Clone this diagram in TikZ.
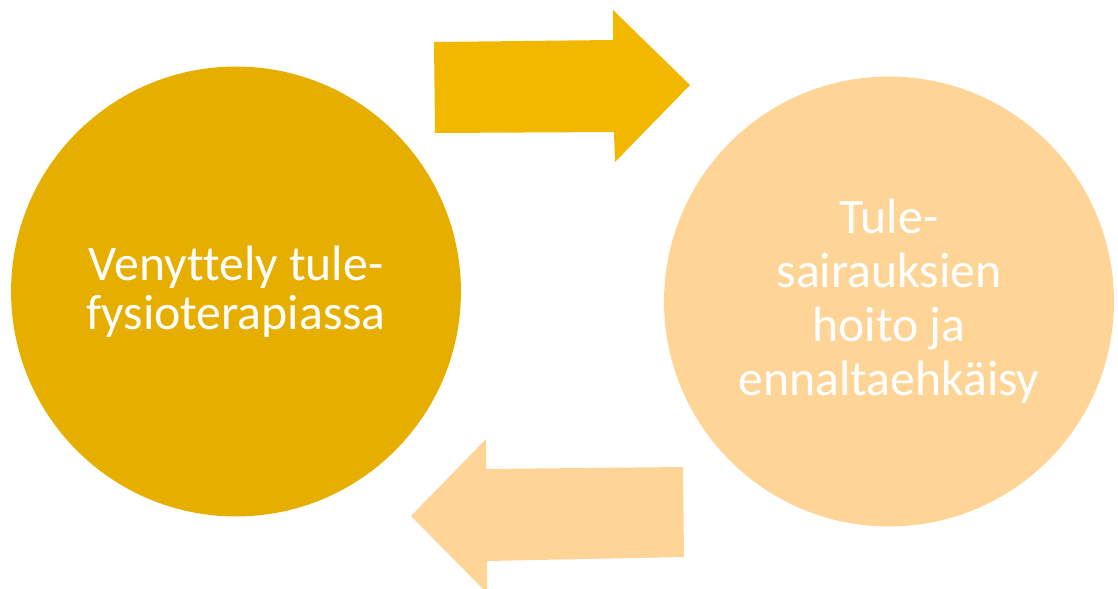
\documentclass[tikz,border=0pt]{standalone}
\usepackage{fontspec}
\setmainfont{Carlito}[Ligatures=NoCommon]
\definecolor{gold}{HTML}{E6AF00}
\definecolor{amber}{HTML}{F2B800}
\definecolor{peach}{HTML}{FED596}
\tikzset{
  ball/.style     = {shape=circle, minimum size=9cm, inner sep=0pt,
                     align=center, text=white},
  leftball/.style = {ball, fill=gold, font=\fontsize{28.3}{27.9}\selectfont},
  rightball/.style= {ball, fill=peach, font=\fontsize{28.3}{30.7}\selectfont},
  fwd/.style      = {fill=amber},
  back/.style     = {fill=peach}
}
\begin{document}
\begin{tikzpicture}[x=0.02cm, y=-0.02cm]
  \clip (0,0) rectangle (1118,588);

  \node[leftball]  (stretch) at (236,291.5) {Venyttely tule-\\fysioterapiassa};
  \node[rightball] (care)    at (889,301.5) {Tule-\\sairauksien\\hoito ja\\ennaltaehkäisy};

  % block arrows
  \fill[fwd]  (434,42) -- (613,40) -- (613,10) -- (690,85)
              -- (615,162) -- (614,132) -- (435,133) -- cycle;
  \fill[back] (683,467) -- (486,469) -- (486,439) -- (411,516)
              -- (487,593) -- (487,561) -- (684,557) -- cycle;
\end{tikzpicture}
\end{document}
